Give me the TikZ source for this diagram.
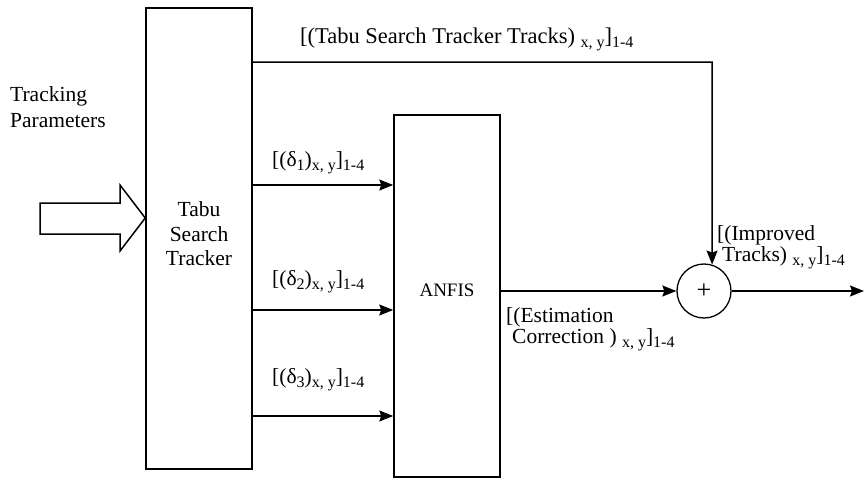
\documentclass[tikz,border=0pt]{standalone}
\usepackage{fontspec}
\setmainfont{Liberation Serif}
\newfontfamily\tms{Liberation Serif}
\usetikzlibrary{arrows.meta}
\newcommand\lowsub[1]{\raisebox{-4.5pt}{\fontsize{16}{16}\selectfont #1}}
\begin{document}
\begin{tikzpicture}[x=1pt,y=-1pt,
  block/.style={draw, line width=1.5pt, minimum width=106pt, inner sep=0pt},
  conn/.style={line width=1.5pt, -{Stealth[length=14pt,width=11pt,inset=2pt]}},
  lbl/.style={font=\tms\fontsize{21.5}{24.5}\selectfont, inner sep=0pt},
  ]
\useasboundingbox (0,0) rectangle (864,479);
% blocks
\node[block, minimum height=461pt] (tabu) at (199,238.5) {};
\node[block, minimum height=362pt] (anfis) at (447,296) {};
\node[draw, circle, line width=1.3pt, minimum size=54pt, inner sep=0pt,
      font=\tms\fontsize{26}{26}\selectfont] (circ) at (704,291) {+};
% block texts
\node[lbl, align=center] (tabutxt) at (199,234) {Tabu\\Search\\Tracker};
\node[lbl, font=\tms\fontsize{19}{19}\selectfont] (anfistxt) at (447,290) {ANFIS};
% input hollow arrow
\coordinate (tip) at (tabu.west |- 0,218);
\draw[line width=1.5pt, line join=miter] (40,203) -- (120,203) -- (120,185) -- (tip)
  -- (120,251) -- (120,234) -- (40,234) -- cycle;
\node[lbl, anchor=base west, align=left, font=\tms\fontsize{21.5}{26}\selectfont] (inlbl) at (10,127)
  {Tracking\\Parameters};
% connectors
\coordinate (turn) at (712,62);
\draw[conn] (tabu.east |- turn) -- (turn) -- (circ.73);
\draw[conn] (tabu.east |- 0,185) -- (anfis.west |- 0,185);
\draw[conn] (tabu.east |- 0,310) -- (anfis.west |- 0,310);
\draw[conn] (tabu.east |- 0,416) -- (anfis.west |- 0,416);
\draw[conn] (anfis.east |- circ.west) -- (circ.west);
\coordinate (out) at (864,291);
\draw[conn] (circ.east) -- (out);
% labels
\node[lbl, anchor=base west, font=\tms\fontsize{22.5}{24.5}\selectfont] (toplbl) at (300,43)
  {[(Tabu Search Tracker Tracks) \lowsub{x, y}]\lowsub{1-4}};
\node[lbl, anchor=base west] (d1) at (272,166)
  {[(δ\lowsub{1})\lowsub{x, y}]\lowsub{1-4}};
\node[lbl, anchor=base west] (d2) at (272,285)
  {[(δ\lowsub{2})\lowsub{x, y}]\lowsub{1-4}};
\node[lbl, anchor=base west] (d3) at (272,383)
  {[(δ\lowsub{3})\lowsub{x, y}]\lowsub{1-4}};
\node[lbl, anchor=base west] (est1) at (506,322) {[(Estimation};
\node[lbl, anchor=base west] (est2) at (512,343) {Correction ) \lowsub{x, y}]\lowsub{1-4}};
\node[lbl, anchor=base west] (imp1) at (717,240) {[(Improved};
\node[lbl, anchor=base west] (imp2) at (722,261) {Tracks) \lowsub{x, y}]\lowsub{1-4}};
\end{tikzpicture}
\end{document}
